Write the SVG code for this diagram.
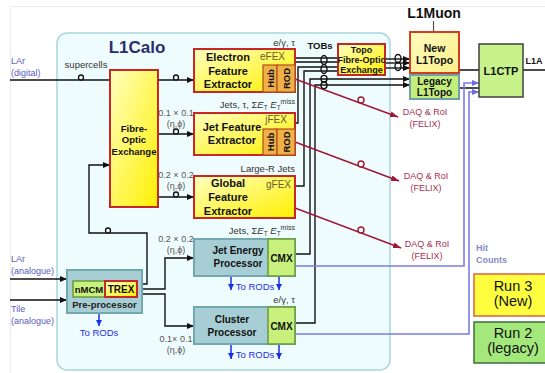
<svg xmlns="http://www.w3.org/2000/svg" width="545" height="373" viewBox="0 0 545 373">
<defs>
<linearGradient id="gy" x1="0" y1="0" x2="1" y2="1"><stop offset="0" stop-color="#ffffc0"/><stop offset="1" stop-color="#fff000"/></linearGradient>
<linearGradient id="gp" x1="0" y1="0" x2="1" y2="1"><stop offset="0" stop-color="#fffbc0"/><stop offset="1" stop-color="#fbef88"/></linearGradient>
<marker id="ab" markerWidth="7" markerHeight="6" refX="7" refY="3" orient="auto" markerUnits="userSpaceOnUse"><path d="M0,0 L7,3 L0,6 z" fill="#111"/></marker>
<marker id="ar" markerWidth="8" markerHeight="6" refX="8" refY="3" orient="auto" markerUnits="userSpaceOnUse"><path d="M0,0 L8,3 L0,6 z" fill="#a01838"/></marker>
<marker id="al" markerWidth="7" markerHeight="6" refX="7" refY="3" orient="auto" markerUnits="userSpaceOnUse"><path d="M0,0 L7,3 L0,6 z" fill="#6c6ce0"/></marker>
<marker id="at" markerWidth="6" markerHeight="7" refX="6" refY="3" orient="auto" markerUnits="userSpaceOnUse"><path d="M0,0 L6,3 L0,6 z" fill="#1a2ee8"/></marker>
<style>
text{font-family:"Liberation Sans",Arial,sans-serif}
.b{font-weight:bold}
.m{text-anchor:middle}
.yb{fill:url(#gy);stroke:#c62828;stroke-width:2}
.hr{fill:#f0b048;stroke:#b05018;stroke-width:1.2}
.tl{fill:#a6ced4;stroke:#74a8b0;stroke-width:2}
.gr{fill:#c8f07c;stroke:#6a9a3a;stroke-width:1.5}
.n11{font-size:11px;fill:#111}
.n10{font-size:10px;fill:#111}
.fx{font-size:10px;fill:#6b5a2a}
.lb{font-size:9.5px;fill:#333}
.rs{font-size:9px;fill:#555}
.in{font-size:9px;fill:#5a5ac0}
.dq{font-size:9px;fill:#a83050}
.rod{font-size:9.5px;fill:#1a2ee8}
.k{fill:none;stroke:#111;stroke-width:1.4}
.kh{fill:#effcfd;stroke:#111;stroke-width:1.3}
.r{fill:none;stroke:#a01838;stroke-width:1.5}
.rh{fill:#effcfd;stroke:#a01838;stroke-width:1.4}
.lv{fill:none;stroke:#7c7ce6;stroke-width:1.6}
.bl{fill:none;stroke:#1a2ee8;stroke-width:1.5}
</style>
</defs>
<rect x="0" y="0" width="545" height="373" fill="#fff"/>
<path d="M10.5,373 V6.5 H545" fill="none" stroke="#ececec" stroke-width="1"/>

<g id="l1calo">
<rect x="57" y="33" width="333" height="337" rx="10" fill="#effcfd" stroke="#a9d6dd" stroke-width="1.5"/>
<text x="137" y="53" class="b m" font-size="17" fill="#2b2d6e">L1Calo</text>
</g>

<g id="labels">
<text x="11" y="64" class="in">LAr</text>
<text x="11" y="76" class="in">(digital)</text>
<text x="11" y="262" class="in">LAr</text>
<text x="11" y="274" class="in">(analogue)</text>
<text x="11" y="312" class="in">Tile</text>
<text x="11" y="324" class="in">(analogue)</text>
<text x="86" y="68" class="lb m">supercells</text>
<text x="176" y="116" class="rs m">0.1 × 0.1</text>
<text x="176" y="127" class="rs m">(η,ϕ)</text>
<text x="176" y="178" class="rs m">0.2 × 0.2</text>
<text x="176" y="189" class="rs m">(η,ϕ)</text>
<text x="176" y="242" class="rs m">0.2 × 0.2</text>
<text x="176" y="253" class="rs m">(η,ϕ)</text>
<text x="176" y="342" class="rs m">0.1× 0.1</text>
<text x="176" y="353" class="rs m">(η,ϕ)</text>
<text x="295" y="46" class="lb" text-anchor="end">e/γ, τ</text>
<text x="295" y="108" class="lb" text-anchor="end">Jets, τ, Σ<tspan font-style="italic">E</tspan><tspan font-size="6.5" dy="2">T</tspan><tspan dy="-2"> </tspan><tspan font-style="italic">E</tspan><tspan font-size="6.5" dy="2">T</tspan><tspan font-size="7" dy="-6">miss</tspan></text>
<text x="295" y="172" class="lb" text-anchor="end">Large-R Jets</text>
<text x="295" y="234" class="lb" text-anchor="end">Jets, Σ<tspan font-style="italic">E</tspan><tspan font-size="6.5" dy="2">T</tspan><tspan dy="-2"> </tspan><tspan font-style="italic">E</tspan><tspan font-size="6.5" dy="2">T</tspan><tspan font-size="7" dy="-6">miss</tspan></text>
<text x="295" y="303" class="lb" text-anchor="end">e/γ, τ</text>
<text x="320" y="49" class="b m" font-size="9.5" fill="#111">TOBs</text>
<text x="434" y="18" class="b m" font-size="14" fill="#111">L1Muon</text>
<text x="534" y="64" class="b m" font-size="9" fill="#111">L1A</text>
<text x="425" y="115" class="dq m">DAQ &amp; RoI</text>
<text x="425" y="127" class="dq m">(FELIX)</text>
<text x="426" y="179" class="dq m">DAQ &amp; RoI</text>
<text x="426" y="191" class="dq m">(FELIX)</text>
<text x="427" y="247" class="dq m">DAQ &amp; RoI</text>
<text x="427" y="259" class="dq m">(FELIX)</text>
<text x="476" y="251" class="b" font-size="9" fill="#8888cc">Hit</text>
<text x="476" y="263" class="b" font-size="9" fill="#8888cc">Counts</text>
<text x="255" y="290" class="rod m">To RODs</text>
<text x="255" y="358" class="rod m">To RODs</text>
<text x="99" y="336" class="rod m">To RODs</text>
</g>

<g id="connectors">
<path class="k" d="M10,80 H110"/>
<path class="k" d="M158,80 H194" marker-end="url(#ab)"/>
<path class="k" d="M158,134 H194" marker-end="url(#ab)"/>
<path class="k" d="M158,197 H194" marker-end="url(#ab)"/>
<path class="k" d="M10,279 H67" marker-end="url(#ab)"/>
<path class="k" d="M10,300 H67" marker-end="url(#ab)"/>
<path class="k" d="M137,284 H147 V233 H89 V165 H110" marker-end="url(#ab)"/>
<path class="k" d="M137,289 H165 V258 H194" marker-end="url(#ab)"/>
<path class="k" d="M137,294 H165 V326 H194" marker-end="url(#ab)"/>
<path class="k" d="M295,58 H338 M295,62 H338"/>
<path class="k" d="M295,123 H298 V67 H338"/>
<path class="k" d="M295,186 H304 V71 H338"/>
<path class="k" d="M295,254 H310 V79 H410" marker-end="url(#ab)"/>
<path class="k" d="M295,323 H315 V85 H410" marker-end="url(#ab)"/>
<path class="k" d="M385,59 H410" marker-end="url(#ab)"/>
<path class="k" d="M385,63 H410" marker-end="url(#ab)"/>
<path class="k" d="M385,68 H410" marker-end="url(#ab)"/>
<path class="k" d="M459,70 H479 M459,88 H479 M523,70 H545"/>
<path d="M433.5,21 V32" stroke="#555" stroke-width="1.2"/>
<path class="lv" d="M295,266 H464 V83 H479" marker-end="url(#al)"/>
<path class="lv" d="M295,334 H469 V92 H479" marker-end="url(#al)"/>
<path class="r" d="M295,79 L398,117" marker-end="url(#ar)"/>
<path class="r" d="M295,142 L399,181" marker-end="url(#ar)"/>
<path class="r" d="M295,208 L401,248" marker-end="url(#ar)"/>
<path class="bl" d="M231,276 V290" marker-end="url(#at)"/>
<path class="bl" d="M279,276 V290" marker-end="url(#at)"/>
<path class="bl" d="M231,344 V359" marker-end="url(#at)"/>
<path class="bl" d="M279,344 V359" marker-end="url(#at)"/>
<path class="bl" d="M99,313 V326" marker-end="url(#at)"/>
<circle class="kh" cx="81" cy="77.5" r="2.5"/>
<circle class="kh" cx="176" cy="77.5" r="2.5"/>
<circle class="kh" cx="176" cy="131.5" r="2.5"/>
<circle class="kh" cx="176" cy="194.5" r="2.5"/>
<circle class="kh" cx="108" cy="230.5" r="2.5"/>
<circle class="rh" cx="361" cy="100" r="3"/>
<circle class="rh" cx="361" cy="164" r="3"/>
<circle class="rh" cx="361" cy="230" r="3"/>
<ellipse class="k" cx="324" cy="60" rx="3" ry="4.5"/>
<ellipse class="k" cx="324" cy="69" rx="3" ry="4.5"/>
<ellipse class="k" cx="324" cy="78.7" rx="3" ry="3.3"/>
<ellipse class="k" cx="324" cy="85.3" rx="3" ry="3.3"/>
<ellipse class="k" cx="398" cy="58.5" rx="3" ry="4"/>
<ellipse class="k" cx="398" cy="66.5" rx="3" ry="4"/>
</g>

<g id="fibre-optic-exchange">
<rect x="110" y="70" width="48" height="137" class="yb"/>
<text x="134" y="132" class="b m" font-size="9.5" fill="#111">Fibre-</text>
<text x="134" y="143" class="b m" font-size="9.5" fill="#111">Optic</text>
<text x="134" y="155" class="b m" font-size="9.5" fill="#111">Exchange</text>
</g>

<g id="efex">
<rect x="194" y="49" width="101" height="43" class="yb"/>
<text x="228" y="61" class="b m n11">Electron</text>
<text x="228" y="75" class="b m n11">Feature</text>
<text x="228" y="88" class="b m n11">Extractor</text>
<text x="272.5" y="60" class="fx m">eFEX</text>
<rect x="263" y="65" width="14" height="27" class="hr"/>
<rect x="277" y="65" width="18" height="27" class="hr"/>
<text transform="translate(273.5,78.5) rotate(-90)" class="b m" font-size="9.5" fill="#111">Hub</text>
<text transform="translate(289.5,78.5) rotate(-90)" class="b m" font-size="9.5" fill="#111">ROD</text>
</g>

<g id="jfex">
<rect x="194" y="113" width="101" height="42" class="yb"/>
<text x="232" y="131" class="b m n11">Jet Feature</text>
<text x="232" y="144" class="b m n11">Extractor</text>
<text x="276" y="123" class="fx m">jFEX</text>
<rect x="263" y="129" width="14" height="26" class="hr"/>
<rect x="277" y="129" width="18" height="26" class="hr"/>
<text transform="translate(273.5,142) rotate(-90)" class="b m" font-size="9.5" fill="#111">Hub</text>
<text transform="translate(289.5,142) rotate(-90)" class="b m" font-size="9.5" fill="#111">ROD</text>
</g>

<g id="gfex">
<rect x="194" y="176" width="101" height="42" class="yb"/>
<text x="228" y="187" class="b m n11">Global</text>
<text x="228" y="201" class="b m n11">Feature</text>
<text x="228" y="215" class="b m n11">Extractor</text>
<text x="278.5" y="188" class="fx m">gFEX</text>
</g>

<g id="jet-energy-processor">
<rect x="194" y="239" width="101" height="37" class="tl"/>
<rect x="268" y="239" width="27" height="37" class="gr"/>
<text x="238" y="254" class="b m n10">Jet Energy</text>
<text x="238" y="267" class="b m n10">Processor</text>
<text x="281.5" y="262" class="b m n10">CMX</text>
</g>

<g id="cluster-processor">
<rect x="194" y="307" width="101" height="37" class="tl"/>
<rect x="268" y="307" width="27" height="37" class="gr"/>
<text x="232" y="323" class="b m n10">Cluster</text>
<text x="232" y="336" class="b m n10">Processor</text>
<text x="281.5" y="330" class="b m n10">CMX</text>
</g>

<g id="pre-processor">
<rect x="67" y="270" width="75" height="43" class="tl"/>
<rect x="73" y="281" width="32" height="16" class="gr"/>
<rect x="105" y="281" width="32" height="16" class="yb" stroke-width="1.5"/>
<text x="89" y="293" class="b m" font-size="9.5" fill="#111">nMCM</text>
<text x="121" y="293" class="b m n10">TREX</text>
<text x="104.5" y="308" class="b m" font-size="9.5" fill="#222">Pre-processor</text>
</g>

<g id="topo-fibre-optic-exchange">
<rect x="338" y="44" width="47" height="31" class="yb"/>
<text x="361.5" y="53" class="b m" font-size="9" fill="#111">Topo</text>
<text x="361.5" y="63" class="b m" font-size="9" fill="#111">Fibre-Optic</text>
<text x="361.5" y="73" class="b m" font-size="9" fill="#111">Exchange</text>
</g>

<g id="new-l1topo">
<rect x="410" y="32" width="49" height="41" fill="url(#gp)" stroke="#d04020" stroke-width="2"/>
<text x="434.5" y="52" class="b m" font-size="10.5" fill="#111">New</text>
<text x="434.5" y="64" class="b m" font-size="10.5" fill="#111">L1Topo</text>
</g>

<g id="legacy-l1topo">
<rect x="410" y="75" width="49" height="24" fill="#c4ee7c" stroke="#70a0b0" stroke-width="2"/>
<text x="434.5" y="85" class="b m n10">Legacy</text>
<text x="434.5" y="96" class="b m n10">L1Topo</text>
</g>

<g id="l1ctp">
<rect x="479" y="44" width="44" height="53" fill="#c8f28a" stroke="#404040" stroke-width="1.5"/>
<text x="501" y="75" class="b m n11">L1CTP</text>
</g>

<g id="legend-run3">
<rect x="474" y="274" width="75" height="42" fill="#ffff40" stroke="#e06040" stroke-width="1.5"/>
<text x="513" y="291" class="m" font-size="14.5" fill="#111">Run 3</text>
<text x="513" y="306" class="m" font-size="14.5" fill="#111">(New)</text>
</g>

<g id="legend-run2">
<rect x="474" y="322" width="75" height="41" fill="#a4e87c" stroke="#3c6e3c" stroke-width="1.5"/>
<text x="513" y="338" class="m" font-size="14.5" fill="#111">Run 2</text>
<text x="513" y="353" class="m" font-size="14.5" fill="#111">(legacy)</text>
</g>
</svg>
